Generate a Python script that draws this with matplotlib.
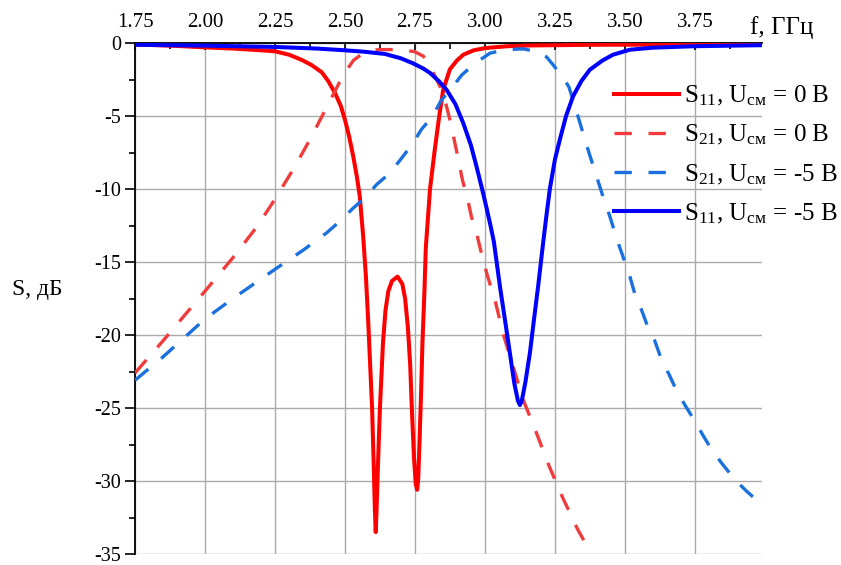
import numpy as np
import matplotlib
matplotlib.use("Agg")
import matplotlib.pyplot as plt
from matplotlib.ticker import MultipleLocator, FormatStrFormatter

# S11, U = 0 V (red solid)
f_s11_0 = [1.75, 1.90, 2.00, 2.10, 2.20, 2.25, 2.30, 2.345, 2.38, 2.417, 2.44, 2.464,
           2.485, 2.50, 2.515, 2.53, 2.543, 2.553, 2.565, 2.575, 2.583, 2.590, 2.597,
           2.603, 2.607, 2.610, 2.613, 2.617, 2.625, 2.636, 2.645, 2.655, 2.668, 2.688,
           2.705, 2.715, 2.725, 2.733, 2.740, 2.747, 2.753, 2.758, 2.762, 2.767, 2.772,
           2.777, 2.784, 2.789, 2.804, 2.821, 2.837, 2.851, 2.875, 2.90, 2.923, 2.96,
           3.00, 3.08, 3.16, 3.40, 3.99]
s11_0 = [-0.10, -0.20, -0.30, -0.38, -0.50, -0.57, -0.80, -1.15, -1.5, -2.0, -2.6, -3.4,
         -4.3, -5.25, -6.4, -7.8, -9.2, -10.5, -13.2, -16.0, -19.0, -22.0, -25.0,
         -29.0, -32.0, -33.5, -32.0, -29.5, -25.0, -20.5, -18.3, -17.0, -16.3, -16.0,
         -16.5, -17.5, -19.5, -22.0, -25.5, -28.5, -30.2, -30.6, -29.8, -27.0, -24.0,
         -20.5, -17.0, -14.0, -10.0, -7.3, -5.0, -3.2, -1.8, -1.2, -0.8, -0.5,
         -0.35, -0.22, -0.17, -0.12, -0.10]

# S21, U = 0 V (red dashed)
f_s21_0 = [1.75, 1.85, 2.00, 2.10, 2.185, 2.25, 2.32, 2.381, 2.44, 2.494, 2.53, 2.571,
           2.62, 2.70, 2.75, 2.78, 2.80, 2.82, 2.84, 2.857, 2.877, 2.90, 2.92, 2.936,
           2.952, 2.97, 2.99, 3.00, 3.01, 3.036, 3.065, 3.10, 3.136, 3.184, 3.23,
           3.277, 3.331, 3.387, 3.42]
s21_0 = [-22.6, -20.4, -17.0, -14.7, -12.6, -10.7, -8.5, -6.4, -4.2, -2.2, -1.2, -0.6,
         -0.45, -0.45, -0.6, -0.9, -1.4, -2.2, -3.0, -3.9, -5.4, -7.5, -9.4, -10.5,
         -11.9, -13.0, -14.6, -15.3, -16.0, -17.6, -19.9, -22.1, -24.4, -26.7, -29.0,
         -31.1, -33.3, -35.2, -36.3]

# S21, U = -5 V (blue dashed)
f_s21_5 = [1.75, 1.85, 2.00, 2.10, 2.25, 2.35, 2.435, 2.482, 2.53, 2.571, 2.613, 2.661,
           2.702, 2.738, 2.774, 2.81, 2.845, 2.881, 2.917, 2.964, 3.018, 3.071, 3.137,
           3.196, 3.22, 3.244, 3.28, 3.30, 3.32, 3.34, 3.36, 3.38, 3.40, 3.42, 3.44,
           3.46, 3.48, 3.50, 3.518, 3.536, 3.56, 3.583, 3.607, 3.631, 3.658, 3.687,
           3.718, 3.75, 3.78, 3.815, 3.851, 3.893, 3.935, 3.982]
s21_5 = [-23.1, -21.5, -18.9, -17.5, -15.5, -14.2, -13.0, -12.2, -11.3, -10.6, -9.7, -8.9,
         -7.9, -7.0, -5.9, -5.1, -3.9, -3.1, -2.2, -1.4, -0.7, -0.46, -0.4,
         -0.64, -0.95, -1.5, -2.4, -3.0, -4.2, -5.5, -6.8, -8.0, -9.2, -10.4, -11.5,
         -12.7, -13.9, -15.0, -16.0, -17.2, -18.3, -19.5, -20.4, -21.7, -22.7, -23.9,
         -24.9, -25.9, -26.9, -28.0, -28.9, -29.9, -30.7, -31.5]

# S11, U = -5 V (blue solid)
f_s11_5 = [1.75, 2.00, 2.25, 2.40, 2.50, 2.57, 2.643, 2.70, 2.744, 2.78, 2.804, 2.835,
           2.863, 2.895, 2.923, 2.95, 2.97, 2.99, 3.006, 3.02, 3.032, 3.054, 3.072,
           3.089, 3.105, 3.118, 3.125, 3.132, 3.145, 3.161, 3.175, 3.19, 3.208, 3.22,
           3.232, 3.25, 3.268, 3.29, 3.315, 3.345, 3.375, 3.42, 3.458, 3.518, 3.60,
           3.75, 3.99]
s11_5 = [-0.12, -0.18, -0.27, -0.38, -0.50, -0.60, -0.75, -1.05, -1.4, -1.75, -2.05, -2.6,
         -3.2, -4.2, -5.5, -7.0, -8.45, -10.0, -11.3, -12.5, -13.6, -16.7, -19.0,
         -21.2, -23.3, -24.5, -24.8, -24.5, -23.2, -21.2, -19.0, -16.7, -13.7, -11.8,
         -10.0, -8.0, -6.6, -5.0, -3.65, -2.6, -1.83, -1.2, -0.8, -0.46, -0.32,
         -0.22, -0.15]

labels = ["S$_{11}$, U$_{\\mathrm{см}}$ = 0 В",
          "S$_{21}$, U$_{\\mathrm{см}}$ = 0 В",
          "S$_{21}$, U$_{\\mathrm{см}}$ = -5 В",
          "S$_{11}$, U$_{\\mathrm{см}}$ = -5 В"]

plt.rcParams["font.family"] = ["Liberation Serif", "DejaVu Serif"]
plt.rcParams["mathtext.fontset"] = "custom"
plt.rcParams["mathtext.rm"] = "Liberation Serif"
plt.rcParams["mathtext.it"] = "Liberation Serif"
plt.rcParams["axes.unicode_minus"] = False

fig = plt.figure(figsize=(8.41, 5.65), dpi=100)
ax = fig.add_axes([135 / 841, 1 - 554 / 565, 627 / 841, 511 / 565])

dash = (0, (5.2, 5.0))
ax.plot(f_s11_0, s11_0, color="#ff0000", lw=2.9, label=labels[0], zorder=3)
ax.plot(f_s21_0, s21_0, color="#f03c3c", lw=2.4, ls=dash, label=labels[1], zorder=3)
ax.plot(f_s21_5, s21_5, color="#1a70de", lw=2.4, ls=dash, label=labels[2], zorder=3)
ax.plot(f_s11_5, s11_5, color="#0000ff", lw=2.9, label=labels[3], zorder=4)

ax.set_xlim(1.75, 3.99)
ax.set_ylim(-35, 0)

ax.spines["bottom"].set_visible(False)
ax.spines["right"].set_visible(False)
ax.spines["top"].set_linewidth(1.3)
ax.spines["left"].set_linewidth(1.3)

ax.xaxis.tick_top()
ax.xaxis.set_major_locator(MultipleLocator(0.25))
ax.xaxis.set_minor_locator(MultipleLocator(0.125))
ax.xaxis.set_major_formatter(FormatStrFormatter("%.2f"))
ax.yaxis.set_major_locator(MultipleLocator(5))
ax.yaxis.set_minor_locator(MultipleLocator(2.5))
ax.yaxis.set_major_formatter(FormatStrFormatter("%d"))

ax.tick_params(axis="x", which="major", direction="in", length=5, width=1.2,
               labelsize=15, pad=8, top=True, bottom=False)
ax.tick_params(axis="x", which="minor", direction="in", length=4, width=1.2,
               top=True, bottom=False)
ax.tick_params(axis="y", which="major", direction="out", length=7, width=1.2,
               labelsize=14.5, pad=3)
ax.tick_params(axis="y", which="minor", direction="out", length=4, width=1.2)

# hide 4.00 label (axis title sits there)
for lbl in ax.get_xticklabels():
    if lbl.get_text() == "4.00":
        lbl.set_visible(False)

ax.grid(True, which="major", color="#aaaaaa", lw=1.0, zorder=0)
ax.set_axisbelow(True)

fig.text(750 / 841, 1 - 28 / 565, "f, ГГц", fontsize=18, va="center", ha="left")
fig.text(12 / 841, 1 - 290 / 565, "S, дБ", fontsize=17, va="center", ha="left")

fig.legend(loc="upper left", bbox_to_anchor=(614 / 841, 1 - 84 / 565),
           frameon=False, fontsize=18, handlelength=2.6, handletextpad=0.2,
           labelspacing=0.6, borderpad=0, borderaxespad=0)

fig.savefig("out.png", dpi=100)
